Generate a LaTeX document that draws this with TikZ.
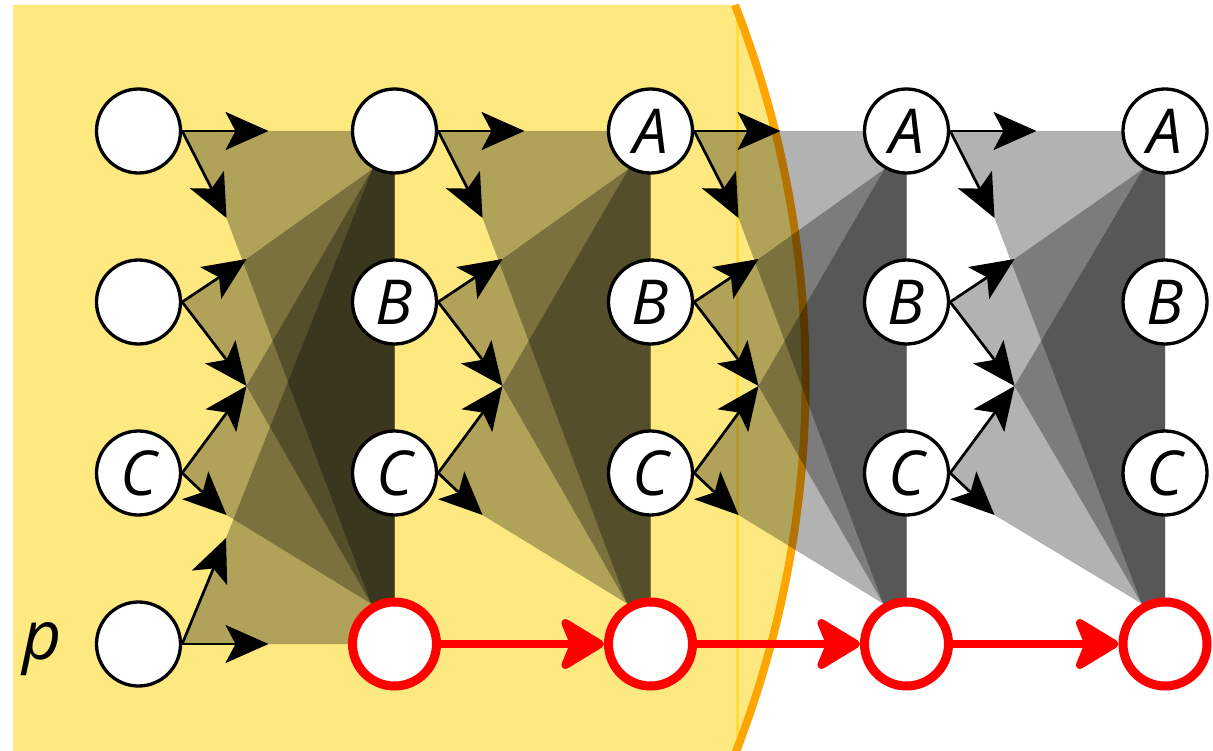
\documentclass[tikz,border=0pt]{standalone}
\usepackage{fontspec}
\setmainfont{Open Sans}
\usetikzlibrary{arrows.meta}
\definecolor{paleyellow}{RGB}{254,233,128}
\definecolor{seamyellow}{RGB}{255,222,60}
\definecolor{rimorange}{RGB}{255,165,0}
\pgfdeclarelayer{back}
\pgfdeclarelayer{mid}
\pgfsetlayers{back,mid,main}

\begin{document}
\begin{tikzpicture}[x=1pt,y=-1pt,
        cone/.style={fill=black,fill opacity=0.3}]
    \useasboundingbox (0,0) rectangle (1213,751);

    \begin{scope} [every node/.style={circle,draw,fill=white,line width=3.3pt,
            minimum size=84pt,inner sep=0pt,font=\fontsize{62}{62}\selectfont\itshape}]
        \node (a1) at (138.5,131) {};
        \node (b1) at (138.5,302) {};
        \node (c1) at (138.5,473) {C};
        \node (p1) at (138.5,644) {};
        \node (a2) at (394.5,131) {};
        \node (b2) at (394.5,302) {B};
        \node (c2) at (394.5,473) {C};
        \node (a3) at (650.5,131) {A};
        \node (b3) at (650.5,302) {B};
        \node (c3) at (650.5,473) {C};
        \node (a4) at (906.5,131) {A};
        \node (b4) at (906.5,302) {B};
        \node (c4) at (906.5,473) {C};
        \node (a5) at (1165,131) {A};
        \node (b5) at (1165,302) {B};
        \node (c5) at (1165,473) {C};
    \end{scope}

    \begin{scope} [every node/.style={circle,draw=red,fill=white,line width=9pt,
            minimum size=84pt,inner sep=0pt}]
        \node (p2) at (394.5,644) {};
        \node (p3) at (650.5,644) {};
        \node (p4) at (906.5,644) {};
        \node (p5) at (1165,644) {};
    \end{scope}

    \node [font=\fontsize{68}{68}\selectfont\itshape] (plabel) at (42,649) {p};

    % arrow ends
    \foreach \j/\x in {1/138.5,2/394.5,3/650.5,4/906.5} {
        \coordinate (ta\j) at (\x+130,131);
        \coordinate (tb\j) at (\x+88,218);
        \coordinate (tc\j) at (\x+108,259);
        \coordinate (td\j) at (\x+108,386);
        \coordinate (te\j) at (\x+88,515);
    }
    \coordinate (tf1) at (226,538);
    \coordinate (tg1) at (268.5,644);

    \begin{pgfonlayer}{back}
        \fill [paleyellow] (13,5) -- (735,5)
            arc [start angle=21.35,end angle=-21.35,radius=1029pt] -- (13,755) -- cycle;
        \draw [seamyellow,line width=3pt] (737,5) -- (737,751);
        \draw [rimorange,line width=8pt] (735,5)
            arc [start angle=21.35,end angle=-21.35,radius=1029pt];

        \foreach \j/\k in {1/2,2/3,3/4,4/5} {
            \fill [cone] (a\j.east) -- (ta\j) -- (a\k.center) -- (p\k.center)
                -- (p\k.120) -- (tb\j) -- cycle;
            \fill [cone] (b\j.east) -- (tc\j) -- (a\k.240) -- (a\k.center)
                -- (p\k.center) -- (p\k.120) -- (td\j) -- cycle;
            \fill [cone] (c\j.east) -- (td\j) -- (a\k.240) -- (a\k.center)
                -- (p\k.center) -- (p\k.120) -- (te\j) -- cycle;
        }
        \fill [cone] (p1.east) -- (tf1) -- (a2.240) -- (a2.center)
            -- (p2.center) -- (tg1) -- cycle;
    \end{pgfonlayer}

    \begin{pgfonlayer}{mid}
        \begin{scope} [>={Stealth[length=43pt,width=38pt,inset=10pt]},
                every edge/.style={draw,line width=2.7pt}]
            \foreach \j in {1,...,4} {
                \path [->] (a\j.east) edge (ta\j) (a\j.east) edge (tb\j);
                \path [->] (b\j.east) edge (tc\j) (b\j.east) edge (td\j);
                \path [->] (c\j.east) edge (td\j) (c\j.east) edge (te\j);
            }
            \path [->] (p1.east) edge (tf1) (p1.east) edge (tg1);
        \end{scope}

        \begin{scope} [>={Stealth[length=50pt,width=60pt,inset=12pt,round]},
                every edge/.style={draw=red,line width=8pt}]
            \path [->] (p2) edge (p3);
            \path [->] (p3) edge (p4);
            \path [->] (p4) edge (p5);
        \end{scope}
    \end{pgfonlayer}
\end{tikzpicture}
\end{document}
